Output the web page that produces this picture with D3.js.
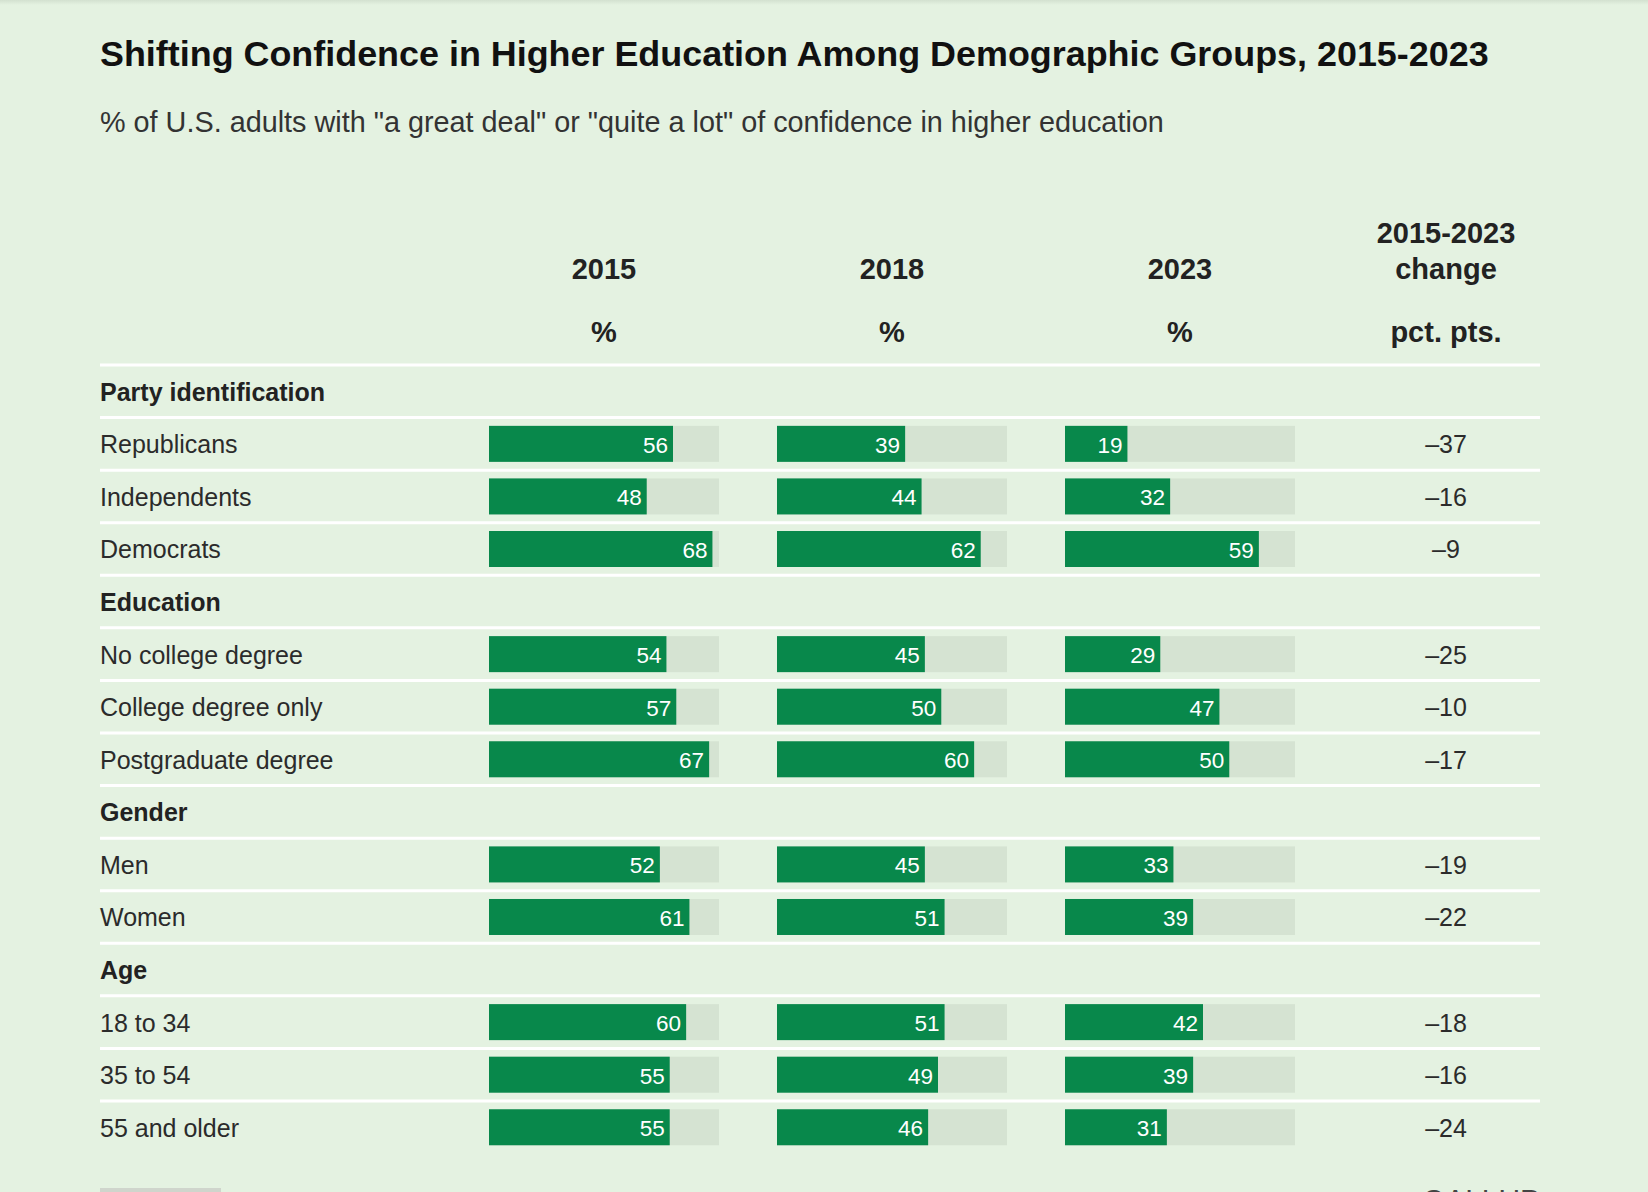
<!DOCTYPE html>
<html>
<head>
<meta charset="utf-8">
<script src="https://cdn.jsdelivr.net/npm/d3@7"></script>
<style>
  html, body { margin: 0; padding: 0; background: #E4F2E1; }
  svg { display: block; }
  text { font-family: "Liberation Sans", Arial, Helvetica, sans-serif; }
</style>
</head>
<body>
<svg id="chart" width="1648" height="1192"></svg>
<script>
// ---- data ----
const years = ["2015", "2018", "2023"];
const groups = ["Party identification", "Education", "Gender", "Age"];
const categories = [
  "Republicans", "Independents", "Democrats",
  "No college degree", "College degree only", "Postgraduate degree",
  "Men", "Women",
  "18 to 34", "35 to 54", "55 and older"
];
const categoryGroup = [0, 0, 0, 1, 1, 1, 2, 2, 3, 3, 3];
const values2015 = [56, 48, 68, 54, 57, 67, 52, 61, 60, 55, 55];
const values2018 = [39, 44, 62, 45, 50, 60, 45, 51, 51, 49, 46];
const values2023 = [19, 32, 59, 29, 47, 50, 33, 39, 42, 39, 31];
const change = [-37, -16, -9, -25, -10, -17, -19, -22, -18, -16, -24];
const title = "Shifting Confidence in Higher Education Among Demographic Groups, 2015-2023";
const subtitle = '% of U.S. adults with "a great deal" or "quite a lot" of confidence in higher education';

// ---- build rows ----
const seriesByYear = { "2015": values2015, "2018": values2018, "2023": values2023 };
const rows = [];
groups.forEach((g, gi) => {
  rows.push({ type: "group", label: g });
  categories.forEach((c, ci) => {
    if (categoryGroup[ci] === gi) rows.push({ type: "cat", label: c, idx: ci });
  });
});

const svg = d3.select("#chart");
const W = 1648, H = 1192;
const left = 100, right = 1540;

// subtle top shade
const defs = svg.append("defs");
const grad = defs.append("linearGradient").attr("id", "topShade").attr("x1", 0).attr("x2", 0).attr("y1", 0).attr("y2", 1);
grad.append("stop").attr("offset", "0%").attr("stop-color", "#d3e1d0");
grad.append("stop").attr("offset", "100%").attr("stop-color", "#E4F2E1");
svg.append("rect").attr("x", 0).attr("y", 0).attr("width", W).attr("height", H).attr("fill", "#E4F2E1");
svg.append("rect").attr("x", 0).attr("y", 0).attr("width", W).attr("height", 5).attr("fill", "url(#topShade)");

// title & subtitle
svg.append("text").attr("x", left).attr("y", 66)
  .attr("font-size", 35.9).attr("font-weight", 700).attr("fill", "#111")
  .text(title);
svg.append("text").attr("x", left).attr("y", 132)
  .attr("font-size", 28.8).attr("fill", "#333")
  .text(subtitle);

// scales
const y = d3.scaleBand().domain(d3.range(rows.length)).range([365, 365 + rows.length * 52.57]).padding(0);
const col = d3.scaleBand().domain(years).range([489, 1295]).paddingInner(58 / 288).paddingOuter(0);
const x = d3.scaleLinear().domain([0, 70]).range([0, col.bandwidth()]);
const changeX = 1446;
const barH = 36;

// column headers
const hdr = svg.append("g").attr("font-weight", 700).attr("fill", "#222").attr("font-size", 29).attr("text-anchor", "middle");
years.forEach(yr => {
  const cx = col(yr) + col.bandwidth() / 2;
  hdr.append("text").attr("x", cx).attr("y", 279).text(yr);
  hdr.append("text").attr("x", cx).attr("y", 342).text("%");
});
hdr.append("text").attr("x", changeX).attr("y", 243).text("2015-2023");
hdr.append("text").attr("x", changeX).attr("y", 279).text("change");
hdr.append("text").attr("x", changeX).attr("y", 342).text("pct. pts.");

// row separator lines
svg.append("g").selectAll("line").data(rows).join("line")
  .attr("x1", left).attr("x2", right)
  .attr("y1", (d, i) => y(i)).attr("y2", (d, i) => y(i))
  .attr("stroke", "#ffffff").attr("stroke-width", 3);

// rows
const rowG = svg.append("g").selectAll("g").data(rows).join("g")
  .attr("transform", (d, i) => `translate(0,${y(i) + y.bandwidth() / 2})`);

rowG.append("text")
  .attr("x", left).attr("y", 9.5)
  .attr("font-size", 25)
  .attr("font-weight", d => d.type === "group" ? 700 : 400)
  .attr("fill", d => d.type === "group" ? "#222" : "#2b2b2b")
  .text(d => d.label);

const catG = rowG.filter(d => d.type === "cat");

years.forEach(yr => {
  const vals = seriesByYear[yr];
  catG.append("rect")
    .attr("x", col(yr)).attr("y", -barH / 2)
    .attr("width", x(70)).attr("height", barH)
    .attr("fill", "#D5E3D2");
  catG.append("rect")
    .attr("x", col(yr)).attr("y", -barH / 2)
    .attr("width", d => x(vals[d.idx])).attr("height", barH)
    .attr("fill", "#08884B");
  catG.append("text")
    .attr("x", d => col(yr) + x(vals[d.idx]) - 5).attr("y", 9)
    .attr("text-anchor", "end").attr("font-size", 22.5).attr("fill", "#fff")
    .text(d => vals[d.idx]);
});

catG.append("text")
  .attr("x", changeX).attr("y", 9.5)
  .attr("text-anchor", "middle").attr("font-size", 25).attr("fill", "#2b2b2b")
  .text(d => (change[d.idx] < 0 ? "\u2013" : "") + Math.abs(change[d.idx]));

// footer
svg.append("rect").attr("x", 100).attr("y", 1188).attr("width", 121).attr("height", 10).attr("fill", "#CFD5CC");
svg.append("text").attr("x", 1422).attr("y", 1213)
  .attr("font-family", "'Liberation Serif', serif").attr("font-size", 34).attr("fill", "#444")
  .attr("textLength", 118).attr("lengthAdjust", "spacingAndGlyphs")
  .text("GALLUP");
</script>
</body>
</html>
